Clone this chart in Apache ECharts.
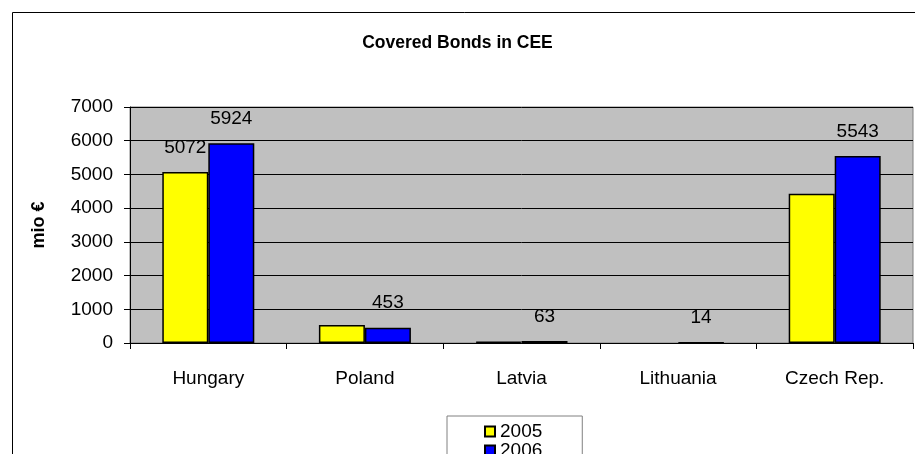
<!DOCTYPE html>
<html>
<head>
<meta charset="utf-8">
<script src="https://cdn.jsdelivr.net/npm/echarts@6/dist/echarts.min.js"></script>
<style>
  html, body { margin: 0; padding: 0; background: #fff; }
  #main { width: 915px; height: 454px; }
</style>
</head>
<body>
<div id="main"></div>
<script>
// data
var countries = ['Hungary', 'Poland', 'Latvia', 'Lithuania', 'Czech Rep.'];
var bonds2005 = [5072, 535, 38, null, 4425];
var bonds2006 = [5924, 453, 63, 14, 5543];
var yTicks = [0, 1000, 2000, 3000, 4000, 5000, 6000, 7000];

var FONT = '"Liberation Sans", Arial, sans-serif';
var chart = echarts.init(document.getElementById('main'), null, { renderer: 'canvas' });

var option = {
  animation: false,
  backgroundColor: '#fff',
  textStyle: { fontFamily: FONT, color: '#000' },
  title: {
    text: 'Covered Bonds in CEE',
    left: 'center',
    top: 29,
    textStyle: { fontFamily: FONT, fontSize: 17.5, fontWeight: 'bold', color: '#000' }
  },
  graphic: [{
    // outer chart frame
    type: 'rect',
    shape: { x: 12.5, y: 12.5, width: 1000, height: 1000 },
    style: { fill: 'none', stroke: '#000', lineWidth: 1 },
    z: -1
  }],
  legend: {
    orient: 'vertical',
    left: 447,
    top: 416,
    height: 120,
    data: ['2005', '2006'],
    backgroundColor: '#fff',
    borderColor: '#808080',
    borderWidth: 1,
    padding: [6, 40, 6, 37],
    itemGap: 0,
    itemWidth: 10,
    itemHeight: 10,
    icon: 'rect',
    textStyle: { fontFamily: FONT, fontSize: 19, color: '#000', lineHeight: 16 }
  },
  grid: {
    left: 130,
    right: 2,
    top: 107,
    bottom: 111,
    show: true,
    backgroundColor: '#c0c0c0',
    borderColor: '#808080',
    borderWidth: 1
  },
  xAxis: {
    type: 'category',
    data: countries,
    axisLine: { lineStyle: { color: '#000', width: 1 } },
    axisTick: { show: true, length: 6, lineStyle: { color: '#000' } },
    axisLabel: { fontFamily: FONT, fontSize: 19, color: '#000', margin: 26 },
    splitLine: { show: false }
  },
  yAxis: {
    type: 'value',
    min: yTicks[0],
    max: yTicks[yTicks.length - 1],
    interval: 1000,
    name: 'mio €',
    nameLocation: 'middle',
    nameGap: 82,
    nameRotate: 90,
    nameTextStyle: { fontFamily: FONT, fontSize: 18, fontWeight: 'bold', color: '#000' },
    axisLine: { show: true, lineStyle: { color: '#000' } },
    axisTick: { show: true, length: 6, lineStyle: { color: '#000' } },
    axisLabel: {
      fontFamily: FONT, fontSize: 19, color: '#000', margin: 17,
      formatter: function (v) { return String(v); }
    },
    splitLine: { show: true, lineStyle: { color: '#000', width: 1 } }
  },
  series: [{
    name: '2005',
    type: 'bar',
    data: bonds2005.map(function (v, i) {
      // only the Hungary 2005 value carries a label in the original
      return i === 0 ? { value: v, label: { show: true } } : v;
    }),
    barWidth: 46,
    barGap: '0%',
    itemStyle: { color: '#ffff00', borderColor: '#000', borderWidth: 1.5 },
    label: { show: false, position: 'top', distance: 15, fontFamily: FONT, fontSize: 19, color: '#000' }
  }, {
    name: '2006',
    type: 'bar',
    data: bonds2006,
    barWidth: 46,
    barGap: '0%',
    itemStyle: { color: '#0000ff', borderColor: '#000', borderWidth: 1.5 },
    label: { show: true, position: 'top', distance: 15, fontFamily: FONT, fontSize: 19, color: '#000' }
  }]
};

chart.setOption(option);
</script>
</body>
</html>
